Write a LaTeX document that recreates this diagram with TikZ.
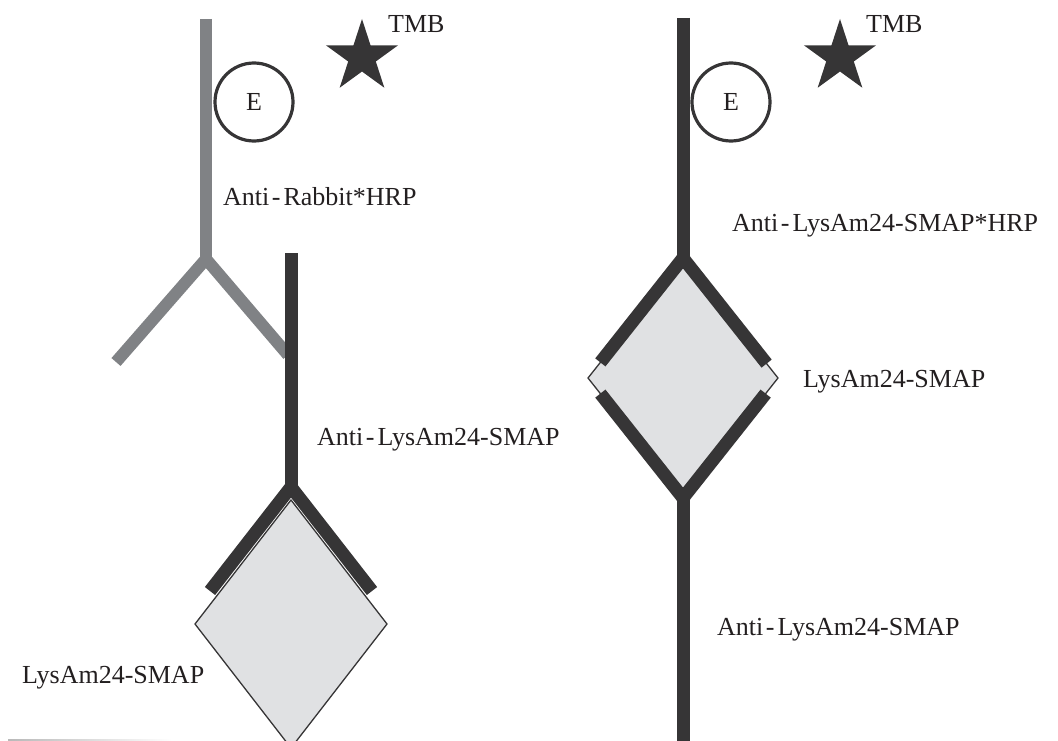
\documentclass[tikz,border=0pt]{standalone}
\usepackage{fontspec}
\setmainfont{Liberation Serif}
\usetikzlibrary{shapes.geometric,calc}

\definecolor{ink}{HTML}{363536}
\definecolor{greyab}{HTML}{808285}
\definecolor{antigen}{HTML}{E0E1E3}
\definecolor{txt}{HTML}{231F20}

% slightly spaced hyphen after the "Anti" prefix
\newcommand{\antipre}{Anti\kern2.5pt-\kern3pt}

\begin{document}
\begin{tikzpicture}[x=1pt,y=-1pt,
  lbl/.style={anchor=base west, inner sep=0pt, text=txt, font=\fontsize{26}{30}\selectfont},
  darkab/.style={draw=ink, line width=13pt, line cap=butt, line join=miter},
  lightab/.style={draw=greyab, line width=12pt, line cap=butt, line join=miter},
  antigenbox/.style={fill=antigen, draw=ink, line width=1.3pt, line join=miter},
  enzyme/.style={circle, draw=ink, line width=3.2pt, minimum size=78pt, inner sep=0pt,
                 text=txt, font=\fontsize{26}{30}\selectfont},
  substrate/.style={star, star points=5, star point ratio=2.618, fill=ink,
                    minimum size=76pt, inner sep=0pt, outer sep=0pt}
]
\useasboundingbox (0,0) rectangle (1058,741);

% ---------- left assay: sandwich with anti-rabbit conjugate ----------
% antigen on the plate
\coordinate (dLt) at (291,500);
\coordinate (dLl) at (195,624);
\coordinate (dLr) at (387,624);
\coordinate (dLb) at (291,748);
\path[antigenbox] (dLt) -- (dLr) -- (dLb) -- (dLl) -- cycle;

% grey secondary antibody (anti-rabbit*HRP)
\coordinate (gTop) at (206,19);
\coordinate (gFork) at (206,259);
\coordinate (gArmL) at (116,362);
\coordinate (gArmR) at (288,355);
\draw[lightab] (gTop) -- (gFork);
\draw[lightab] (gArmL) -- (gFork) -- (gArmR);

% dark primary antibody bound to the antigen
\coordinate (bTop) at (291,253);
\coordinate (bFork) at (291,487);
\coordinate (bArmL) at (210,591);
\coordinate (bArmR) at (372,591);
\draw[darkab] (bTop) -- (bFork);
\draw[darkab] (bArmL) -- (bFork) -- (bArmR);

% enzyme and substrate
\node[enzyme] (eL) at (254,102) {E};
\node[substrate] (sL) at (362,57) {};
\node[lbl] (tmbL) at (388,33) {TMB};

% labels
\node[lbl] (labRabbit) at (223,205) {\antipre Rabbit*HRP};
\node[lbl] (labAntiL) at (317,445) {\antipre LysAm24-SMAP};
\node[lbl] (labAgL) at (22,683) {LysAm24-SMAP};

% faint rule at the lower left
\shade[left color=gray!55, right color=white] (8,739.3) rectangle (172,740.7);

% ---------- right assay: direct sandwich with conjugated antibody ----------
\coordinate (dRt) at (683,258);
\coordinate (dRl) at (588,378);
\coordinate (dRr) at (778,378);
\coordinate (dRb) at (683,498);
\path[antigenbox] (dRt) -- (dRr) -- (dRb) -- (dRl) -- cycle;

% upper (conjugated) antibody
\coordinate (uTop) at (683,18);
\coordinate (uArmL) at ($(dRt)!0.87!(dRl)$);
\coordinate (uArmR) at ($(dRt)!0.88!(dRr)$);
\draw[darkab] (uTop) -- (dRt);
\draw[darkab] (uArmL) -- (dRt) -- (uArmR);

% lower (capture) antibody
\coordinate (lBot) at (683,741);
\coordinate (lArmL) at ($(dRl)!0.13!(dRb)$);
\coordinate (lArmR) at ($(dRr)!0.13!(dRb)$);
\draw[darkab] (dRb) -- (lBot);
\draw[darkab] (lArmL) -- (dRb) -- (lArmR);

% enzyme and substrate
\node[enzyme] (eR) at (731,102) {E};
\node[substrate] (sR) at (840,57) {};
\node[lbl] (tmbR) at (866,33) {TMB};

% labels
\node[lbl] (labConj) at (732,231) {\antipre LysAm24-SMAP*HRP};
\node[lbl] (labAgR) at (803,387) {LysAm24-SMAP};
\node[lbl] (labAntiR) at (717,635) {\antipre LysAm24-SMAP};
\end{tikzpicture}
\end{document}
